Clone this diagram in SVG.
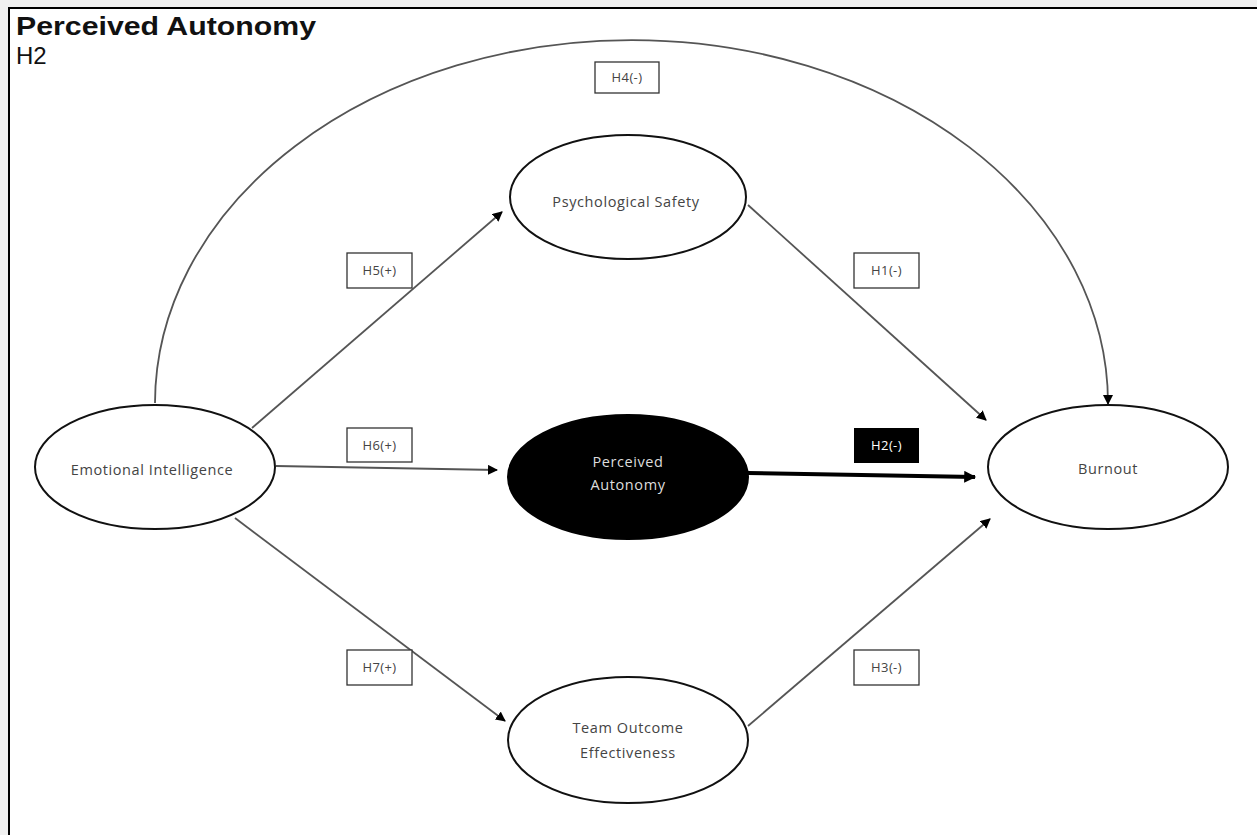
<svg xmlns="http://www.w3.org/2000/svg" width="1257" height="835" viewBox="0 0 1257 835">
<defs>
<marker id="ah" viewBox="0 0 10 10" refX="9" refY="5" markerWidth="10" markerHeight="10" markerUnits="userSpaceOnUse" orient="auto">
<path d="M0,0 L10,5 L0,10 z" fill="#000"/>
</marker>
<marker id="ahb" viewBox="0 0 10 10" refX="9" refY="5" markerWidth="14" markerHeight="12" markerUnits="userSpaceOnUse" orient="auto">
<path d="M0,0 L10,5 L0,10 z" fill="#000"/>
</marker>
</defs>
<style>
.node{fill:#fff;stroke:#111;stroke-width:2}
.nt{font-family:"Open Sans","Liberation Sans",sans-serif;font-size:14.5px;letter-spacing:0.6px;fill:#444;text-anchor:middle}
.lbl{fill:#fff;stroke:#333;stroke-width:1.3}
.lt{font-family:"Open Sans","Liberation Sans",sans-serif;font-size:13px;letter-spacing:0.4px;fill:#444;text-anchor:middle}
.conn{fill:none;stroke:#555;stroke-width:1.8;marker-end:url(#ah)}
</style>
<rect width="1257" height="835" fill="#f0f0f0"/>
<rect x="9" y="8" width="1260" height="840" fill="#fff" stroke="#000" stroke-width="2"/>
<text x="16" y="35" font-family="Liberation Sans, Arial, sans-serif" font-weight="bold" font-size="26" fill="#111" textLength="300" lengthAdjust="spacingAndGlyphs">Perceived Autonomy</text>
<text x="16" y="64" font-family="Liberation Sans, Arial, sans-serif" font-size="24" fill="#111">H2</text>
<g id="connectors">
<path class="conn" d="M155,403 A476,363 0 0 1 1108,404"/>
<line class="conn" x1="252" y1="428" x2="502" y2="212"/>
<line class="conn" x1="748" y1="205" x2="986" y2="420"/>
<line class="conn" x1="276" y1="466" x2="497" y2="470"/>
<line x1="748" y1="473" x2="975" y2="477" stroke="#000" stroke-width="4" marker-end="url(#ahb)"/>
<line class="conn" x1="235" y1="518" x2="505" y2="721"/>
<line class="conn" x1="748" y1="726" x2="990" y2="519"/>
</g>
<g id="label-h4"><rect class="lbl" x="595" y="62" width="64" height="31"/><text class="lt" x="627" y="82">H4(-)</text></g>
<g id="label-h5"><rect class="lbl" x="347" y="253" width="65" height="35"/><text class="lt" x="379.5" y="275">H5(+)</text></g>
<g id="label-h1"><rect class="lbl" x="854" y="253" width="65" height="35"/><text class="lt" x="886.5" y="275">H1(-)</text></g>
<g id="label-h6"><rect class="lbl" x="347" y="428" width="65" height="34"/><text class="lt" x="379.5" y="450">H6(+)</text></g>
<g id="label-h2"><rect x="854" y="428" width="65" height="35" fill="#000"/><text class="lt" x="886.5" y="450" style="fill:#fff">H2(-)</text></g>
<g id="label-h7"><rect class="lbl" x="347" y="650" width="65" height="35"/><text class="lt" x="379.5" y="672">H7(+)</text></g>
<g id="label-h3"><rect class="lbl" x="854" y="650" width="65" height="35"/><text class="lt" x="886.5" y="672">H3(-)</text></g>
<g id="node-ei"><ellipse class="node" cx="155" cy="467" rx="120" ry="62"/><text class="nt" x="152" y="475">Emotional Intelligence</text></g>
<g id="node-ps"><ellipse class="node" cx="628" cy="197" rx="118" ry="62"/><text class="nt" x="626" y="207">Psychological Safety</text></g>
<g id="node-pa"><ellipse cx="628" cy="477" rx="120" ry="62" fill="#000" stroke="#000" stroke-width="2"/><text class="nt" x="628" y="467" style="fill:#ddd">Perceived</text><text class="nt" x="628" y="490" style="fill:#ddd">Autonomy</text></g>
<g id="node-toe"><ellipse class="node" cx="628" cy="740" rx="120" ry="63"/><text class="nt" x="628" y="733">Team Outcome</text><text class="nt" x="628" y="758">Effectiveness</text></g>
<g id="node-bo"><ellipse class="node" cx="1108" cy="467" rx="120" ry="62"/><text class="nt" x="1108" y="474">Burnout</text></g>
</svg>
